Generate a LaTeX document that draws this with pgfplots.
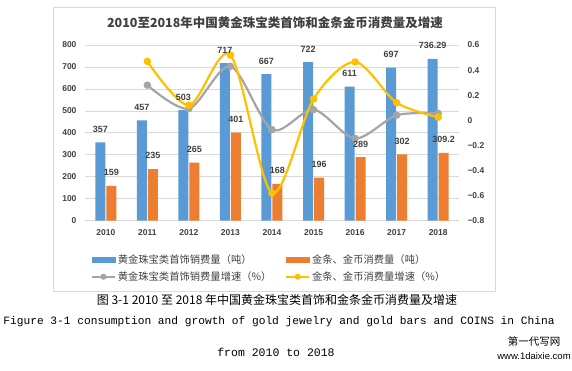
\documentclass[border=0pt]{standalone}
\usepackage{fontspec}
\setmainfont{Liberation Sans}
\newfontfamily\cjk{Noto Sans CJK SC}
\newfontfamily\mono{Liberation Mono}
\usepackage{pgfplots}
\pgfplotsset{compat=1.18}
\definecolor{cblue}{HTML}{5B9BD5}
\definecolor{corange}{HTML}{ED7D31}
\definecolor{cgray}{HTML}{A5A5A5}
\definecolor{cyellow}{HTML}{FFC000}
\definecolor{gridgray}{HTML}{D9D9D9}
\definecolor{txtgray}{HTML}{404040}
\definecolor{boxgray}{HTML}{D9D9D9}
\pgfplotsset{
  base/.style={
    at={(85pt,149.3pt)}, anchor=south west, scale only axis,
    width=374pt, height=175.7pt,
    xmin=-0.5, xmax=8.5,
    axis line style={draw=none}, major tick length=0pt,
    /pgf/number format/assume math mode=true,
    tick label style={font=\bfseries\fontsize{8.5}{10}\selectfont, color=txtgray},
  },
  lbl/.style={
    nodes near coords,
    every node near coord/.append style={font=\bfseries\fontsize{9}{10}\selectfont, color=txtgray, inner sep=0pt, anchor=south, yshift=9.8pt},
  },
  lineleg/.style={legend image code/.code={\draw[mark repeat=2,mark phase=2,##1, line width=1.6pt, mark size=2.2pt] plot coordinates {(0pt,0pt) (11.5pt,0pt) (23pt,0pt)};}},
  barleg/.style={legend image code/.code={\fill[#1] (0pt,-2.4pt) rectangle (23pt,2.4pt);}},
}
\begin{document}
\begin{tikzpicture}
\path[use as bounding box] (0,0) rectangle (572pt,370pt);
\draw[color=boxgray, line width=0.7pt] (53pt,363pt) rectangle (495pt,79pt);
\node[font=\cjk\bfseries\fontsize{12.5}{14}\selectfont, color=txtgray] at (275pt,347pt) {2010至2018年中国黄金珠宝类首饰和金条金币消费量及增速};

% bars
\begin{axis}[base,
  ymin=0, ymax=800, ytick={0,100,...,800},
  xtick={0,...,8}, xticklabels={2010,2011,2012,2013,2014,2015,2016,2017,2018},
  ymajorgrids, grid style={gridgray, line width=0.75pt},
  yticklabel style={xshift=-5pt},
  xticklabel style={yshift=-5.5pt},
  ybar, bar width=10pt,
]
\addplot[fill=cblue, draw=none, bar shift=-5.5pt] coordinates {(0,357) (1,457) (2,503) (3,717) (4,667) (5,722) (6,611) (7,697) (8,736.29)};
\addplot[fill=corange, draw=none, bar shift=5.5pt] coordinates {(0,159) (1,235) (2,265) (3,401) (4,168) (5,196) (6,289) (7,302) (8,309.2)};
\end{axis}

% growth lines
\begin{axis}[base,
  ymin=-0.8, ymax=0.6, ytick={-0.8,-0.6,-0.4,-0.2,0,0.2,0.4,0.6},
  yticklabels={−0.8,−0.6,−0.4,−0.2,0,0.2,0.4,0.6},
  axis y line*=right, axis x line=none,
  yticklabel style={xshift=5pt},
  legend columns=2,
  legend cell align=left,
  legend style={at={(0.008,-0.167)}, anchor=north west, draw=none, fill=none,
    font=\cjk\fontsize{10.3}{12}\selectfont, text=txtgray,
    /tikz/every even column/.append style={column sep=12pt}, row sep=3pt},
]
\addlegendimage{barleg=cblue}
\addlegendentry{黄金珠宝类首饰销费量（吨）}
\addlegendimage{barleg=corange}
\addlegendentry{金条、金币消费量（吨）}
\addplot[color=cgray, line width=2.2pt, smooth, mark=*, mark size=2.6pt, lineleg]
  coordinates {(1,0.28) (2,0.093) (3,0.43) (4,-0.074) (5,0.085) (6,-0.145) (7,0.04) (8,0.055)};
\addlegendentry{黄金珠宝类首饰销费量增速（\%）}
\addplot[color=cyellow, line width=2.2pt, smooth, mark=*, mark size=2.6pt, lineleg]
  coordinates {(1,0.47) (2,0.12) (3,0.52) (4,-0.58) (5,0.17) (6,0.465) (7,0.14) (8,0.025)};
\addlegendentry{金条、金币消费量增速（\%）}
\end{axis}

% data labels on top
\begin{axis}[base, hide axis, ymin=0, ymax=800, ybar, bar width=10pt, lbl]
\addplot[draw=none, fill=none, bar shift=-5.5pt] coordinates {(0,357) (1,457) (2,503) (3,717) (4,667) (5,722) (6,611) (7,697) (8,736.29)};
\addplot[draw=none, fill=none, bar shift=5.5pt] coordinates {(0,159) (1,235) (2,265) (3,401) (4,168) (5,196) (6,289) (7,302) (8,309.2)};
\end{axis}

\node[font=\cjk\fontsize{12}{14}\selectfont] at (277pt,70pt) {图 3-1 2010 至 2018 年中国黄金珠宝类首饰和金条金币消费量及增速};
\node[font=\mono\fontsize{11.2}{13}\selectfont, inner sep=0pt] at (279pt,48pt) {Figure 3-1 consumption and growth of gold jewelry and gold bars and COINS in China};
\node[font=\mono\fontsize{11.5}{13}\selectfont] at (276pt,18pt) {from 2010 to 2018};
\node[font=\cjk\fontsize{10.5}{12}\selectfont] at (534pt,29pt) {第一代写网};
\node[font=\fontsize{9.5}{11}\selectfont] at (534pt,14pt) {www.1daixie.com};
\end{tikzpicture}
\end{document}
